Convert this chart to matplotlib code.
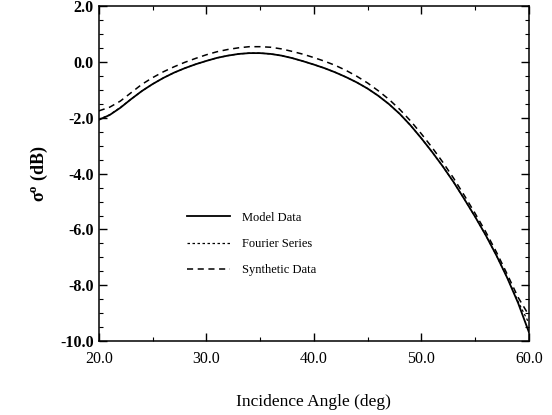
import numpy as np
import matplotlib
matplotlib.use('Agg')
import matplotlib.pyplot as plt
from matplotlib.ticker import MultipleLocator, FormatStrFormatter

plt.rcParams['font.family'] = ['Liberation Serif', 'DejaVu Serif']
plt.rcParams['axes.unicode_minus'] = False
plt.rcParams['mathtext.fontset'] = 'custom'
plt.rcParams['mathtext.rm'] = 'Liberation Serif'
plt.rcParams['mathtext.bf'] = 'Liberation Serif:bold'

# angulo de incidencia (graus)
angulo = [20, 21, 22, 23, 24, 25, 26, 27, 28, 29, 30, 31, 32, 33, 34, 35,
          36, 37, 38, 39, 40, 41, 42, 43, 44, 45, 46, 47, 48, 49, 50, 51,
          52, 53, 54, 55, 56, 57, 58, 59, 60]

# sigma0 (dB)
model_data = [-2.07, -1.90, -1.64, -1.33, -1.04, -0.79, -0.57, -0.38, -0.22,
              -0.08, 0.04, 0.15, 0.23, 0.29, 0.32, 0.32, 0.29, 0.23, 0.14,
              0.03, -0.09, -0.22, -0.37, -0.54, -0.73, -0.95, -1.21, -1.51,
              -1.86, -2.27, -2.73, -3.22, -3.74, -4.30, -4.91, -5.54, -6.21,
              -6.94, -7.74, -8.63, -9.67]
fourier_series = [-2.06, -1.89, -1.63, -1.33, -1.04, -0.79, -0.57, -0.38,
                  -0.22, -0.08, 0.04, 0.15, 0.23, 0.29, 0.32, 0.32, 0.29,
                  0.23, 0.14, 0.03, -0.09, -0.22, -0.37, -0.54, -0.73, -0.95,
                  -1.21, -1.51, -1.86, -2.27, -2.73, -3.22, -3.74, -4.30,
                  -4.91, -5.54, -6.21, -6.94, -7.73, -8.58, -9.35]
synthetic_data = [-1.75, -1.62, -1.40, -1.10, -0.80, -0.56, -0.35, -0.17,
                  -0.01, 0.13, 0.26, 0.37, 0.45, 0.51, 0.55, 0.55, 0.53, 0.47,
                  0.38, 0.28, 0.16, 0.03, -0.12, -0.30, -0.51, -0.75, -1.03,
                  -1.34, -1.70, -2.11, -2.57, -3.06, -3.59, -4.16, -4.78,
                  -5.42, -6.09, -6.82, -7.61, -8.43, -9.07]

fig, ax = plt.subplots(figsize=(5.52, 4.15), dpi=100)
fig.subplots_adjust(left=0.179, right=0.958, top=0.985, bottom=0.178)

ax.plot(angulo, model_data, color='black', lw=1.3, ls='-', label='Model Data')
ax.plot(angulo, fourier_series, color='black', lw=0.9, ls=(0, (2, 2)),
        label='Fourier Series')
ax.plot(angulo, synthetic_data, color='black', lw=1.1, ls=(0, (4, 3)),
        label='Synthetic Data')

ax.set_xlim(20, 60)
ax.set_ylim(-10, 2)
ax.xaxis.set_major_locator(MultipleLocator(10))
ax.xaxis.set_minor_locator(MultipleLocator(5))
ax.yaxis.set_major_locator(MultipleLocator(2))
ax.yaxis.set_minor_locator(MultipleLocator(0.5))
ax.xaxis.set_major_formatter(FormatStrFormatter('%.1f'))
ax.yaxis.set_major_formatter(FormatStrFormatter('%.1f'))
ax.tick_params(which='both', direction='in', top=True, right=True,
               labelsize=11.5)
ax.tick_params(which='major', length=6, width=1)
ax.tick_params(which='minor', length=3, width=0.8)
ax.tick_params(axis='x', which='major', pad=7)
for lab in ax.get_yticklabels():
    lab.set_fontweight('bold')
for s in ax.spines.values():
    s.set_linewidth(1.1)

ax.set_xlabel('Incidence Angle (deg)', fontsize=12.5, labelpad=19.5)
ax.set_ylabel(r'$\mathbf{\sigma^o}$ (dB)', fontsize=13, fontweight='bold',
              labelpad=7.5)

ax.legend(loc='upper left', bbox_to_anchor=(0.18, 0.42), frameon=False,
          fontsize=9, handlelength=3.4, labelspacing=1.15, handletextpad=1.0)

plt.savefig('out.png', dpi=100)
